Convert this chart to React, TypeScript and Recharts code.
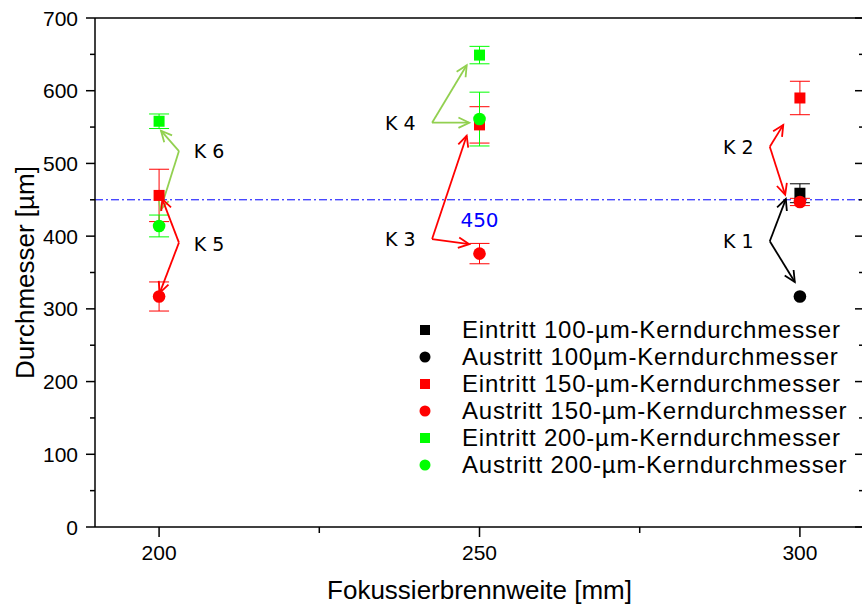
import React from "react";
import {
  ScatterChart,
  Scatter,
  XAxis,
  YAxis,
  ErrorBar,
  ReferenceLine,
  ReferenceDot,
  Legend,
} from "recharts";

// Fokussierbrennweite [mm] vs. Durchmesser [µm]
const xTicks = [200, 225, 250, 275, 300];
const yTicks = [0, 50, 100, 150, 200, 250, 300, 350, 400, 450, 500, 550, 600, 650, 700];

const eintritt100 = [{ f: 300, d: 459, err: 13 }];
const austritt100 = [{ f: 300, d: 317, err: 0 }];
const eintritt150 = [
  { f: 200, d: 456, err: 36 },
  { f: 250, d: 553, err: 25 },
  { f: 300, d: 590, err: 23 },
];
const austritt150 = [
  { f: 200, d: 317, err: 20 },
  { f: 250, d: 376, err: 14 },
  { f: 300, d: 447, err: 5 },
];
const eintritt200 = [
  { f: 200, d: 558, err: 10 },
  { f: 250, d: 649, err: 12 },
];
const austritt200 = [
  { f: 200, d: 414, err: 15 },
  { f: 250, d: 561, err: 37 },
];

const threshold = 450;

// annotation arrows (data coordinates): vertex -> tip
const arrows = [
  { from: [203.1, 517], to: [200.3, 545], c: "#92d050" },
  { from: [203.1, 517], to: [200.2, 436], c: "#92d050" },
  { from: [203.1, 391], to: [200.5, 451], c: "#ff0000" },
  { from: [203.1, 391], to: [200.1, 322], c: "#ff0000" },
  { from: [242.6, 556], to: [248.0, 635], c: "#92d050" },
  { from: [242.6, 556], to: [248.4, 556], c: "#92d050" },
  { from: [242.6, 396], to: [248.0, 538], c: "#ff0000" },
  { from: [242.6, 396], to: [248.4, 389], c: "#ff0000" },
  { from: [295.3, 523], to: [297.4, 553], c: "#ff0000" },
  { from: [295.3, 523], to: [297.7, 457], c: "#ff0000" },
  { from: [295.3, 393], to: [297.8, 451], c: "#000000" },
  { from: [295.3, 393], to: [299.2, 337], c: "#000000" },
];

const kLabels = [
  { text: "K 6", x: 205.4, y: 517 },
  { text: "K 5", x: 205.4, y: 389 },
  { text: "K 4", x: 235.25, y: 556 },
  { text: "K 3", x: 235.25, y: 396 },
  { text: "K 2", x: 288.0, y: 523 },
  { text: "K 1", x: 288.0, y: 393 },
];

const series = [
  { name: "Eintritt 100-µm-Kerndurchmesser", data: eintritt100, color: "#000000", kind: "square" },
  { name: "Austritt 100µm-Kerndurchmesser", data: austritt100, color: "#000000", kind: "circle" },
  { name: "Eintritt 150-µm-Kerndurchmesser", data: eintritt150, color: "#ff0000", kind: "square" },
  { name: "Austritt 150-µm-Kerndurchmesser", data: austritt150, color: "#ff0000", kind: "circle" },
  { name: "Eintritt 200-µm-Kerndurchmesser", data: eintritt200, color: "#00ff00", kind: "square" },
  { name: "Austritt 200-µm-Kerndurchmesser", data: austritt200, color: "#00ff00", kind: "circle" },
];

const FONT = "'Liberation Sans', Arial, sans-serif";
const KFONT = "'DejaVu Sans', Verdana, sans-serif";

const markerShape = (kind: string, color: string) => (p: any) =>
  kind === "square" ? (
    <rect x={p.cx - 5.5} y={p.cy - 5.5} width={11} height={11} fill={color} />
  ) : (
    <circle cx={p.cx} cy={p.cy} r={6.3} fill={color} />
  );

const arrowShape = (color: string) => (p: any) => {
  const { x1, y1, x2, y2 } = p;
  const a = Math.atan2(y2 - y1, x2 - x1);
  const L = 12;
  const w = 0.45;
  const pts = [
    [x2 - L * Math.cos(a - w), y2 - L * Math.sin(a - w)],
    [x2, y2],
    [x2 - L * Math.cos(a + w), y2 - L * Math.sin(a + w)],
  ];
  return (
    <g>
      <line x1={x1} y1={y1} x2={x2} y2={y2} stroke={color} strokeWidth={1.8} />
      <polyline points={pts.map((q) => q.join(",")).join(" ")} fill="none" stroke={color} strokeWidth={1.8} />
    </g>
  );
};

const BottomTick = (p: any) => {
  const major = p.payload.value % 50 === 0;
  return (
    <g>
      <line x1={p.x} y1={p.y} x2={p.x} y2={p.y + (major ? 10 : 6)} stroke="#000" strokeWidth={1.5} />
      {major && (
        <text x={p.x} y={p.y + 33} textAnchor="middle" fontSize={21} fontFamily={FONT} fill="#000">
          {p.payload.value}
        </text>
      )}
    </g>
  );
};

const TopTick = (p: any) => {
  const major = p.payload.value % 50 === 0;
  return <line x1={p.x} y1={p.y} x2={p.x} y2={p.y + (major ? 10 : 6)} stroke="#000" strokeWidth={1.5} />;
};

const LeftTick = (p: any) => {
  const major = p.payload.value % 100 === 0;
  return (
    <g>
      <line x1={p.x - (major ? 9 : 5)} y1={p.y} x2={p.x} y2={p.y} stroke="#000" strokeWidth={1.5} />
      {major && (
        <text x={p.x - 17} y={p.y + 7.5} textAnchor="end" fontSize={21} fontFamily={FONT} fill="#000">
          {p.payload.value}
        </text>
      )}
    </g>
  );
};

const RightTick = (p: any) => {
  const major = p.payload.value % 100 === 0;
  return <line x1={p.x - (major ? 9 : 5)} y1={p.y} x2={p.x} y2={p.y} stroke="#000" strokeWidth={1.5} />;
};

const renderLegend = () => (
  <div style={{ fontFamily: FONT, fontSize: 24, letterSpacing: 0.8, color: "#000" }}>
    {series.map((s) => (
      <div key={s.name} style={{ display: "flex", alignItems: "center", height: 27 }}>
        <svg width={47} height={27} style={{ flex: "none" }}>
          {s.kind === "square" ? (
            <rect x={5} y={9} width={10} height={10} fill={s.color} />
          ) : (
            <circle cx={10} cy={14} r={5.5} fill={s.color} />
          )}
        </svg>
        <span style={{ whiteSpace: "nowrap", lineHeight: "27px" }}>{s.name}</span>
      </div>
    ))}
  </div>
);

export default function App() {
  return (
    <div style={{ position: "absolute", left: 0, top: 0, width: 862, height: 607, overflow: "hidden", background: "#fff" }}>
      <ScatterChart width={866} height={607} margin={{ top: 0, right: 0, bottom: 0, left: 0 }} style={{ fontFamily: FONT }}>
        <XAxis
          type="number"
          dataKey="f"
          domain={[190, 310]}
          ticks={xTicks}
          interval={0}
          allowDataOverflow
          height={80}
          tickSize={0}
          tickMargin={0}
          tick={<BottomTick />}
          axisLine={{ stroke: "#000", strokeWidth: 1.5 }}
          label={{
            content: (lp: any) => (
              <text
                x={lp.viewBox.x + lp.viewBox.width / 2}
                y={lp.viewBox.y + 72}
                textAnchor="middle"
                fontSize={26}
                fontFamily={FONT}
                fill="#000"
              >
                Fokussierbrennweite [mm]
              </text>
            ),
          }}
        />
        <XAxis
          xAxisId="top"
          orientation="top"
          type="number"
          domain={[190, 310]}
          ticks={xTicks}
          interval={0}
          allowDataOverflow
          height={18}
          tickSize={0}
          tickMargin={0}
          tick={<TopTick />}
          axisLine={{ stroke: "#000", strokeWidth: 1.5 }}
        />
        <YAxis
          type="number"
          dataKey="d"
          domain={[0, 700]}
          ticks={yTicks}
          interval={0}
          allowDataOverflow
          width={95}
          tickSize={0}
          tickMargin={0}
          tick={<LeftTick />}
          axisLine={{ stroke: "#000", strokeWidth: 1.5 }}
          label={{
            content: (lp: any) => {
              const cx = 25;
              const cy = lp.viewBox.y + lp.viewBox.height / 2;
              return (
                <text
                  x={cx}
                  y={cy}
                  transform={`rotate(-90 ${cx} ${cy})`}
                  textAnchor="middle"
                  dominantBaseline="central"
                  fontSize={26}
                  fontFamily={FONT}
                  fill="#000"
                >
                  Durchmesser [µm]
                </text>
              );
            },
          }}
        />
        <YAxis
          yAxisId="right"
          orientation="right"
          type="number"
          domain={[0, 700]}
          ticks={yTicks}
          interval={0}
          allowDataOverflow
          width={2}
          tickSize={0}
          tickMargin={0}
          tick={<RightTick />}
          axisLine={{ stroke: "#000", strokeWidth: 1.5 }}
        />

        <ReferenceLine y={threshold} stroke="#0000ff" strokeWidth={1} strokeDasharray="8 3 2 3" />

        {series.map((s) => (
          <Scatter
            key={s.name}
            name={s.name}
            data={s.data}
            fill={s.color}
            shape={markerShape(s.kind, s.color)}
            isAnimationActive={false}
          >
            <ErrorBar dataKey="err" direction="y" width={10} stroke={s.color} strokeWidth={1} isAnimationActive={false} />
          </Scatter>
        ))}

        {arrows.map((a, i) => (
          <ReferenceLine
            key={"arr" + i}
            segment={[
              { x: a.from[0], y: a.from[1] },
              { x: a.to[0], y: a.to[1] },
            ]}
            ifOverflow="visible"
            shape={arrowShape(a.c)}
          />
        ))}

        {kLabels.map((k) => (
          <ReferenceDot
            key={k.text}
            x={k.x}
            y={k.y}
            r={0}
            ifOverflow="visible"
            shape={(p: any) => (
              <text x={p.cx} y={p.cy + 7} fontSize={19} fontFamily={KFONT} fill="#000">
                {k.text}
              </text>
            )}
          />
        ))}

        <ReferenceDot
          x={250}
          y={422}
          r={0}
          ifOverflow="visible"
          shape={(p: any) => (
            <text x={p.cx} y={p.cy + 7} textAnchor="middle" fontSize={20} fontFamily={KFONT} fill="#0000ff">
              {threshold}
            </text>
          )}
        />

        <Legend
          layout="horizontal"
          verticalAlign="middle"
          align="center"
          content={renderLegend}
          wrapperStyle={{ position: "absolute", left: 415, top: 316, width: 445 }}
        />
      </ScatterChart>
    </div>
  );
}
